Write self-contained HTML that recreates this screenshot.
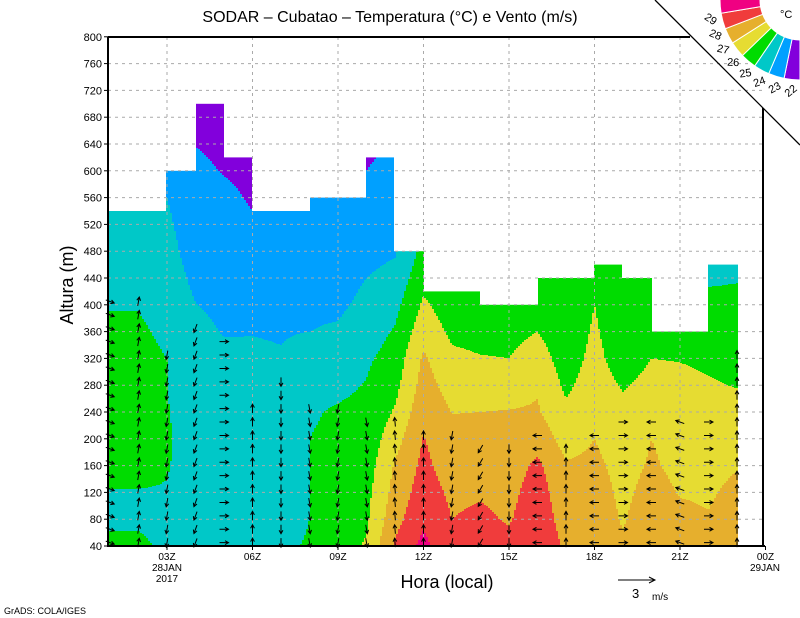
<!DOCTYPE html>
<html><head><meta charset="utf-8"><style>
body{margin:0;background:#fff;}
svg{display:block;font-family:"Liberation Sans",sans-serif;}
</style></head><body>
<svg id="chart" width="800" height="618" viewBox="0 0 800 618">
<g id="fills"></g>
<g id="grid"></g>
<g id="winds"></g>
<g id="axes"></g>
<text x="390" y="22" text-anchor="middle" font-size="16">SODAR – Cubatao – Temperatura (°C) e Vento (m/s)</text>
<text transform="translate(73,285) rotate(-90)" text-anchor="middle" font-size="18">Altura (m)</text>
<text x="447" y="588" text-anchor="middle" font-size="18">Hora (local)</text>
<g>
<line x1="618" y1="580" x2="655" y2="580" stroke="#000" stroke-width="1"/>
<path d="M649,577 L655,580 L649,583" fill="none" stroke="#000"/>
<text x="632" y="598" font-size="13">3</text><text x="652" y="600" font-size="10">m/s</text>
</g>
<text x="4" y="614" font-size="9">GrADS: COLA/IGES</text>
<g id="legend"></g>
</svg>
<script>
const hours=[1,2,3,4,5,6,7,8,9,10,11,12,13,14,15,16,17,18,19,20,21,22,23];
const levels=[40,80,120,160,200,240,280,320,360,400,440,480,520,560,600,640,680,720];
const temps=[
[25.2,24.85,24.95,25.4,25.5,25.5,25.5,25.3,25.15,24.95,24.7,24.5,24.1,23.9,23.8,23.7,23.6,23.5],
[25.2,24.85,24.95,25.3,25.4,25.4,25.4,25.3,25.15,24.95,24.7,24.4,24.15,24.05,23.9,23.8,23.7,23.6],
[24.8,24.7,24.95,25.05,25.1,25.05,25.0,25.0,24.8,24.6,24.45,24.3,24.15,24.0,23.8,23.6,23.4,23.3],
[24.95,24.6,24.6,24.65,24.6,24.55,24.5,24.4,24.25,24.02,23.8,23.6,23.5,23.4,23.2,22.98,22.9,22.8],
[24.7,24.5,24.5,24.5,24.5,24.45,24.4,24.2,23.95,23.8,23.6,23.5,23.4,23.2,22.95,22.8,22.7,22.6],
[24.7,24.5,24.5,24.5,24.5,24.4,24.3,24.1,23.98,23.8,23.6,23.4,23.1,22.9,22.8,22.7,22.6,22.5],
[24.8,24.5,24.5,24.55,24.55,24.45,24.3,24.05,23.95,23.8,23.6,23.45,23.3,23.2,23.1,23.0,22.9,22.8],
[25.1,25.0,25.0,25.0,25.0,24.9,24.7,24.3,24.0,23.85,23.7,23.55,23.45,23.35,23.25,23.15,23.05,23.0],
[25.6,25.5,25.4,25.3,25.2,25.1,24.8,24.4,24.1,23.85,23.7,23.55,23.45,23.35,23.2,23.1,23.0,22.9],
[26.1,25.85,25.7,25.5,25.35,25.2,25.05,24.85,24.5,24.2,24.0,23.7,23.45,23.2,23.0,22.8,22.7,22.6],
[28.15,27.65,27.35,27.1,26.6,26.1,25.7,25.4,25.1,24.7,24.3,23.9,23.7,23.5,23.3,23.1,23.0,22.9],
[29.3,28.8,28.5,28.25,28.05,27.7,27.4,27.15,26.6,26.15,25.7,25.3,25.0,24.8,24.6,24.4,24.2,24.0],
[28.1,28.0,27.8,27.5,27.25,26.98,26.6,26.2,25.8,25.5,25.3,25.1,25.0,24.9,24.8,24.7,24.6,24.5],
[28.5,28.2,27.9,27.5,27.2,27.0,26.5,26.05,25.7,25.4,25.2,25.0,24.9,24.8,24.7,24.6,24.5,24.4],
[28.3,27.9,27.7,27.5,27.3,27.05,26.5,26.0,25.7,25.4,25.2,25.1,25.0,24.9,24.8,24.7,24.6,24.5],
[28.9,28.7,28.5,28.2,27.6,27.1,26.9,26.5,26.0,25.6,25.3,25.2,25.1,25.0,24.9,24.8,24.7,24.6],
[27.8,27.5,27.3,27.1,26.6,26.2,25.8,25.5,25.3,25.1,25.0,24.9,24.8,24.7,24.6,24.5,24.4,24.3],
[27.9,27.6,27.4,27.2,27.0,26.7,26.5,26.3,26.15,26.0,25.6,25.3,25.1,25.0,24.9,24.8,24.7,24.6],
[27.15,26.9,26.8,26.7,26.5,26.3,25.9,25.5,25.3,25.2,25.1,25.05,25.0,24.9,24.8,24.7,24.6,24.5],
[28.0,27.6,27.3,27.1,27.0,26.6,26.3,26.0,25.7,25.5,25.3,25.2,25.1,25.0,24.9,24.8,24.7,24.6],
[27.5,27.2,26.95,26.8,26.7,26.55,26.3,25.95,25.7,25.5,25.3,25.2,25.1,25.0,24.9,24.8,24.7,24.6],
[27.3,27.05,26.9,26.75,26.6,26.4,26.1,25.8,25.5,25.2,24.9,24.6,24.4,24.3,24.2,24.1,24.0,23.9],
[27.6,27.4,27.2,26.95,26.7,26.4,25.95,25.7,25.5,25.2,24.95,24.6,24.4,24.3,24.2,24.1,24.0,23.9]];
const cellTops=[540,540,600,700,620,540,540,560,560,620,480,420,420,400,400,440,440,460,440,360,360,460];
const thresholds=[23,24,25,26,27,28,29];
const bandColors=["#8200dc","#00a0ff","#00c8c8","#00dc00","#e6dc32","#e6af2d","#f03c3c","#f00082"];
const bandLabels=["22","23","24","25","26","27","28","29"];
const yTicks=[40,80,120,160,200,240,280,320,360,400,440,480,520,560,600,640,680,720,760,800];
const xTickHours=[3,6,9,12,15,18,21,24];
const xTickLabels=["03Z","06Z","09Z","12Z","15Z","18Z","21Z","00Z"];
const windDirs=[20,-80,100,110,0,-90,90,80,100,80,-95,-90,100,120,90,180,-90,180,0,180,200,0,-90];
const windTops=[420,420,330,380,360,260,290,260,250,240,240,220,210,200,200,220,200,220,230,230,240,240,330];

const NS="http://www.w3.org/2000/svg";
const X0=108,X1=765,Y0=37,Y1=546;
function xOf(h){return 81.5+28.5*h;}
function hOf(x){return (x-81.5)/28.5;}
function yOf(m){return 546-(m-40)*0.67;}
function mOf(y){return 40+(546-y)/0.67;}
function mk(tag,attrs,parent){const e=document.createElementNS(NS,tag);for(const k in attrs)e.setAttribute(k,attrs[k]);parent.appendChild(e);return e;}
function tempAt(h,m){
  h=Math.max(1,Math.min(23,h));m=Math.max(40,Math.min(720,m));
  let i=Math.min(21,Math.floor(h-1)),fi=(h-1)-i;
  let j=Math.min(16,Math.floor((m-40)/40)),fj=(m-40)/40-j;
  const a=temps[i][j],b=temps[i+1][j],c=temps[i][j+1],d=temps[i+1][j+1];
  return (a*(1-fi)+b*fi)*(1-fj)+(c*(1-fi)+d*fi)*fj;
}
function bandOf(t){let k=0;while(k<thresholds.length&&t>=thresholds[k])k++;return k;}

const fills=document.getElementById('fills');
const step=2;
for(let x=X0;x<xOf(23);x+=step){
  const h=hOf(x+step/2);
  const k=Math.max(0,Math.min(cellTops.length-1,Math.floor(h)-1));
  const yTop=yOf(cellTops[k]);
  let runStart=Y1,runBand=null;
  for(let y=Y1;y>=yTop-0.5;y-=1){
    const b=bandOf(tempAt(h,mOf(y-0.5)));
    if(runBand===null){runBand=b;runStart=y;}
    else if(b!==runBand){
      const r=mk('rect',{x:x,y:y,width:step,height:runStart-y,fill:bandColors[runBand]},fills);
      
      
      runBand=b;runStart=y;
    }
  }
  const r=mk('rect',{x:x,y:yTop,width:step,height:runStart-yTop,fill:bandColors[runBand]},fills);
  
  
}

const grid=document.getElementById('grid');
yTicks.forEach(v=>{
  if(v===40||v===800)return;
  const l=mk('line',{x1:X0,x2:X1,y1:yOf(v),y2:yOf(v),stroke:"#aaa","stroke-dasharray":"3,4","stroke-width":1},grid);
  
  
});
xTickHours.forEach(h=>{
  if(h===24)return;
  const l=mk('line',{x1:xOf(h),x2:xOf(h),y1:Y0,y2:Y1,stroke:"#aaa","stroke-dasharray":"3,4","stroke-width":1},grid);
  
  
});

const winds=document.getElementById('winds');
hours.forEach((h,i)=>{
  for(let m=45;m<=windTops[i];m+=20){
    const a=windDirs[i]*Math.PI/180,L=9;
    const cx=xOf(h),cy=yOf(m);
    const x2=cx+L/2*Math.cos(a),y2=cy+L/2*Math.sin(a);
    const x1=cx-L/2*Math.cos(a),y1=cy-L/2*Math.sin(a);
    const hx1=x2-4*Math.cos(a-0.5),hy1=y2-4*Math.sin(a-0.5);
    const hx2=x2-4*Math.cos(a+0.5),hy2=y2-4*Math.sin(a+0.5);
    const p=mk('path',{d:`M${x1},${y1}L${x2},${y2}M${hx1},${hy1}L${x2},${y2}L${hx2},${hy2}`,stroke:"#000","stroke-width":1,fill:"none"},winds);
    
    
  }
});

const axes=document.getElementById('axes');
mk('path',{d:`M${X0},${Y0}L690,${Y0}M763,108L${X1-2},${Y1}M${X0},${Y0}L${X0},${Y1}L${X1},${Y1}`,stroke:"#000","stroke-width":2,fill:"none"},axes);
mk('line',{x1:655,y1:0,x2:800,y2:145,stroke:"#000","stroke-width":1.3},axes);
yTicks.forEach(v=>{
  mk('line',{x1:X0-4,x2:X0,y1:yOf(v),y2:yOf(v),stroke:"#000"},axes);
  const t=mk('text',{x:X0-6,y:yOf(v)+4,"text-anchor":"end","font-size":11},axes);
  t.textContent=v;
  
  
});
xTickHours.forEach((h,i)=>{
  mk('line',{x1:xOf(h),x2:xOf(h),y1:Y1,y2:Y1+4,stroke:"#000"},axes);
  const t=mk('text',{x:xOf(h),y:560,"text-anchor":"middle","font-size":10},axes);
  t.textContent=xTickLabels[i];
  
  
});
[["28JAN",167,571],["2017",167,582],["29JAN",765,571]].forEach(d=>{
  const t=mk('text',{x:d[1],y:d[2],"text-anchor":"middle","font-size":10},axes);
  t.textContent=d[0];
  
  
});

const legend=document.getElementById('legend');
const R0=40,R1=80,CX=800,CY=0,SPAN=11.5;
bandColors.forEach((c,i)=>{
  const a0=(90+SPAN*i)*Math.PI/180;
  const a1=(i===bandColors.length-1?185:90+SPAN*(i+1))*Math.PI/180;
  const p=(r,a)=>`${CX+r*Math.cos(a)},${CY+r*Math.sin(a)}`;
  const w=mk('path',{d:`M${p(R0,a0)}L${p(R1,a0)}A${R1},${R1} 0 0 1 ${p(R1,a1)}L${p(R0,a1)}A${R0},${R0} 0 0 0 ${p(R0,a0)}Z`,fill:c,stroke:"#fff","stroke-width":1},legend);
  
  
  const angDeg=96+10.3*i;
  const ab=angDeg*Math.PI/180;
  const lx=CX+91*Math.cos(ab),ly=CY+91*Math.sin(ab)+4;
  const t=mk('text',{x:lx,y:ly,"text-anchor":"middle","font-size":11,transform:`rotate(${angDeg-135},${lx},${ly-4})`},legend);
  t.textContent=bandLabels[i];
  
  
});
const deg=mk('text',{x:780,y:18,"font-size":11},legend);
deg.textContent="°C";
</script>
</body></html>
